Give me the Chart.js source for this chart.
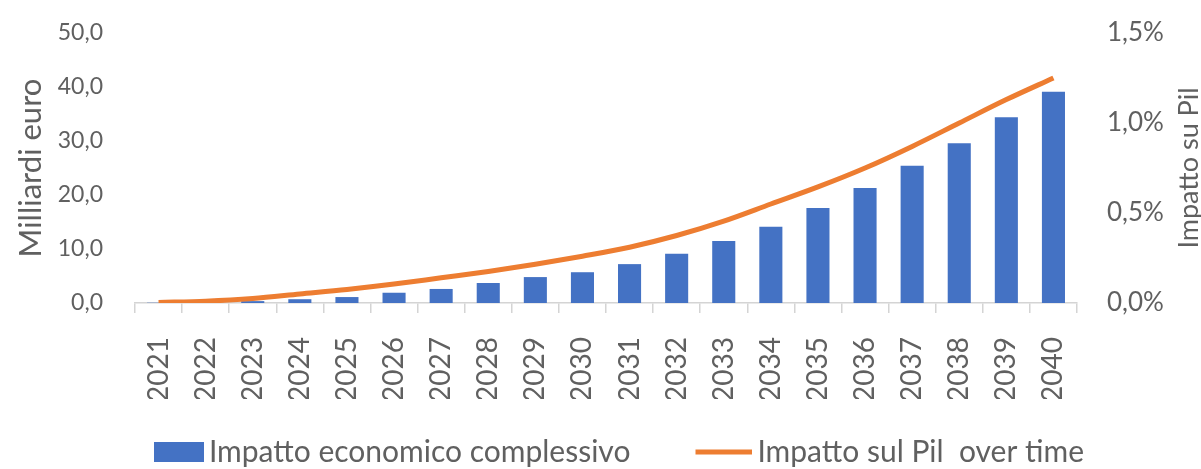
<!DOCTYPE html>
<html>
<head>
<meta charset="utf-8">
<script src="https://cdn.jsdelivr.net/npm/chart.js@4"></script>
<style>
  html, body { margin: 0; padding: 0; background: #ffffff; }
  #wrap { width: 1201px; height: 469px; }
</style>
</head>
<body>
<div id="wrap"><canvas id="c" width="1201" height="469"></canvas></div>
<script>
const years = ['2021','2022','2023','2024','2025','2026','2027','2028','2029','2030',
               '2031','2032','2033','2034','2035','2036','2037','2038','2039','2040'];
const impattoEconomico = [0.05, 0.15, 0.35, 0.7, 1.1, 1.9, 2.6, 3.7, 4.8, 5.7,
                          7.2, 9.1, 11.5, 14.1, 17.6, 21.3, 25.4, 29.6, 34.4, 39.1];
const impattoPil = [0.003, 0.01, 0.025, 0.05, 0.075, 0.105, 0.14, 0.175, 0.215, 0.26,
                    0.31, 0.375, 0.455, 0.55, 0.645, 0.75, 0.87, 1.0, 1.13, 1.25];
const leftTicks = [0, 10, 20, 30, 40, 50];
const rightTicks = [0, 0.5, 1.0, 1.5];
const seriesNames = ['Impatto economico complessivo', 'Impatto sul Pil  over time'];
const axisTitles = ['Milliardi euro', 'Impatto su Pil'];

const BLUE = '#4472C4';
const ORANGE = '#ED7D31';
const TEXT = '#606060';
const AXIS = '#d4d4d4';
const FONT = 'Lato';

function legendSwatch(kind) {
  const cv = document.createElement('canvas');
  cv.width = 94; cv.height = 20;
  const g = cv.getContext('2d');
  if (kind === 'box') {
    g.fillStyle = BLUE;
    g.fillRect(44, 0, 50, 20);
  } else {
    g.fillStyle = ORANGE;
    g.fillRect(37, 7.5, 57, 5);
  }
  return cv;
}
const swBox = legendSwatch('box');
const swLine = legendSwatch('line');

const fmt1 = v => v.toFixed(1).replace('.', ',');

// Right axis title reading bottom-to-top, like the reference
const rightTitlePlugin = {
  id: 'rightTitle',
  afterDraw(chart) {
    const s = chart.scales.y1;
    const ctx = chart.ctx;
    ctx.save();
    ctx.fillStyle = TEXT;
    ctx.font = '27px ' + FONT;
    ctx.textAlign = 'center';
    ctx.textBaseline = 'middle';
    ctx.translate(s.right - 12, (s.top + s.bottom) / 2);
    ctx.rotate(-Math.PI / 2);
    ctx.fillText(axisTitles[1], 0, 0);
    ctx.restore();
  }
};

new Chart(document.getElementById('c'), {
  data: {
    labels: years,
    datasets: [
      {
        type: 'bar',
        label: seriesNames[0],
        data: impattoEconomico,
        backgroundColor: BLUE,
        yAxisID: 'y',
        categoryPercentage: 1,
        barPercentage: 0.49,
        order: 1
      },
      {
        type: 'line',
        label: seriesNames[1],
        data: impattoPil,
        borderColor: ORANGE,
        backgroundColor: ORANGE,
        borderWidth: 5,
        pointRadius: 0,
        cubicInterpolationMode: 'monotone',
        yAxisID: 'y1',
        order: 0
      }
    ]
  },
  plugins: [rightTitlePlugin],
  options: {
    responsive: false,
    animation: false,
    layout: { padding: { top: 33, left: 3, right: 0, bottom: -8 } },
    plugins: {
      tooltip: { enabled: false },
      legend: {
        position: 'bottom',
        onClick: null,
        labels: {
          usePointStyle: true,
          pointStyleWidth: 74,
          boxHeight: 20,
          padding: 38,
          color: TEXT,
          font: { family: FONT, size: 30 },
          generateLabels: () => [
            { text: seriesNames[0], pointStyle: swBox, fillStyle: BLUE, strokeStyle: BLUE, lineWidth: 0, hidden: false, datasetIndex: 0, fontColor: TEXT },
            { text: seriesNames[1], pointStyle: swLine, fillStyle: ORANGE, strokeStyle: ORANGE, lineWidth: 0, hidden: false, datasetIndex: 1, fontColor: TEXT }
          ]
        }
      }
    },
    scales: {
      x: {
        type: 'category',
        offset: true,
        grid: { display: true, drawOnChartArea: false, offset: true, color: AXIS, tickLength: 10, lineWidth: 1.5 },
        border: { display: true, color: AXIS, width: 1.5 },
        ticks: {
          color: TEXT,
          font: { family: FONT, size: 28 },
          maxRotation: 90,
          minRotation: 90,
          padding: 24,
          autoSkip: false
        },
        afterFit: s => { s.height = 96; }
      },
      y: {
        position: 'left',
        min: 0,
        max: 50,
        afterBuildTicks: s => { s.ticks = leftTicks.map(v => ({ value: v })); },
        grid: { display: false },
        border: { display: false },
        ticks: {
          color: TEXT,
          font: { family: FONT, size: 23 },
          padding: 24,
          callback: v => fmt1(v)
        },
        title: {
          display: true,
          text: axisTitles[0],
          color: TEXT,
          font: { family: FONT, size: 31, lineHeight: 1 },
          padding: { top: 12, bottom: 0 }
        },
        afterFit: s => { s.width = 132; s.paddingTop = 0; s.paddingBottom = 0; }
      },
      y1: {
        position: 'right',
        min: 0,
        max: 1.5,
        afterBuildTicks: s => { s.ticks = rightTicks.map(v => ({ value: v })); },
        grid: { display: false },
        border: { display: false },
        ticks: {
          color: TEXT,
          font: { family: FONT, size: 26 },
          padding: 22,
          callback: v => fmt1(v) + '%'
        },
        title: { display: false },
        afterFit: s => { s.width = 124; s.paddingTop = 0; s.paddingBottom = 0; }
      }
    }
  }
});
</script>
</body>
</html>
